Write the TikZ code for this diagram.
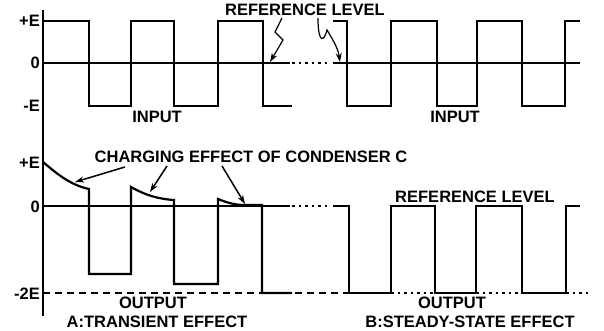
\documentclass[tikz,border=0pt]{standalone}
\usepackage{fontspec}
\setmainfont{Liberation Sans}
\usepackage{tikz}
\usetikzlibrary{arrows.meta,positioning}

\begin{document}
\begin{tikzpicture}[x=1pt,y=-1pt,
  wave/.style={line width=2.2pt, line join=miter},
  zero/.style={line width=1.3pt},
  lbl/.style={font=\fontsize{16.5}{18}\selectfont\bfseries, inner sep=0pt},
  arr/.style={-{Stealth[length=9pt,width=6pt]}, line width=1.5pt},
  dotline/.style={line width=2pt, dash pattern=on 2.5pt off 4pt},
  dashline/.style={line width=1.5pt, dash pattern=on 7pt off 5pt}
]
\useasboundingbox (0,0) rectangle (604,330);

% axis
\draw[line width=1.8pt] (43,10) -- (43,316);

% input levels
\node[lbl, anchor=east] (pe1) at (40,21) {+E};
\node[lbl, anchor=east] (z1)  at (40,63) {0};
\node[lbl, anchor=east] (me1) at (40,106) {-E};
\draw[zero] (43,63) -- (290,63);
\draw[dotline] (292,63) -- (327,63);
\draw[zero] (333,63) -- (580,63);

% input, before and after the break
\draw[wave] (43,21) -- (89,21) -- (89,106) -- (131,106) -- (131,21) -- (174,21)
  -- (174,106) -- (218,106) -- (218,21) -- (263,21) -- (263,106) -- (292,106);
\draw[wave] (333,21) -- (347,21) -- (347,106) -- (391,106) -- (391,21) -- (437,21)
  -- (437,106) -- (477,106) -- (477,21) -- (522,21) -- (522,106) -- (565,106)
  -- (565,21) -- (580,21);

\node[lbl] (reftop) at (305,10) {REFERENCE LEVEL};
\coordinate (rl) at (270,62);
\coordinate (rr) at (340,62);
\draw[arr, line width=1.2pt] (282,18) -- (275,32) -- (283,40) -- (rl);
\draw[arr, line width=1.2pt] (318,18) .. controls (318,44) and (324,42) .. (327,30)
  .. controls (333,40) and (338,48) .. (rr);

\node[lbl] (in1) at (157,117) {INPUT};
\node[lbl] (in2) at (455,117) {INPUT};

% output levels
\node[lbl, anchor=east] (pe2) at (40,163) {+E};
\node[lbl, anchor=east] (z2)  at (40,207) {0};
\node[lbl, anchor=east] (me2) at (40,294) {-2E};
\draw[zero] (43,206) -- (290,206);
\draw[dotline] (292,206) -- (327,206);
\draw[dashline] (43,293) -- (349,293);
\draw[dotline] (391,293) -- (435,293);
\draw[dotline] (476,293) -- (522,293);
\draw[dotline] (566,293) -- (590,293);

% A: transient
\draw[wave] (43,162) .. controls (56,173) and (70,185) .. (89,189) -- (89,274) -- (131,274)
  -- (131,187) .. controls (145,195) and (158,199) .. (174,200) -- (174,284) -- (218,284)
  -- (218,199) .. controls (228,203) and (235,205) .. (245,205) -- (262,205)
  -- (262,293) -- (292,293);

% B: steady state
\draw[wave] (333,206) -- (349,206) -- (349,293) -- (391,293) -- (391,206) -- (435,206)
  -- (435,293) -- (476,293) -- (476,206) -- (522,206) -- (522,293) -- (566,293)
  -- (566,206) -- (580,206);

\node[lbl] (charge) at (251,157) {CHARGING EFFECT OF CONDENSER C};
\coordinate (c1) at (75,182);
\coordinate (c2) at (150,192);
\coordinate (c3) at (245,204);
\draw[arr] (125,167) -- (c1);
\draw[arr] (167,166) -- (c2);
\draw[arr] (222,166) -- (c3);

\node[lbl] (refbot) at (475,197) {REFERENCE LEVEL};

\node[lbl] (outa) at (153,303) {OUTPUT};
\node[lbl] (outb) at (452,303) {OUTPUT};
\node[lbl] (capa) at (157,322) {A:TRANSIENT EFFECT};
\node[lbl] (capb) at (470,322) {B:STEADY-STATE EFFECT};
\end{tikzpicture}
\end{document}
